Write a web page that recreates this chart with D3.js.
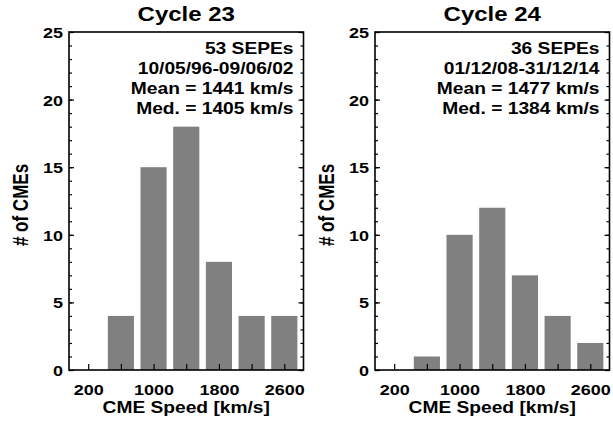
<!DOCTYPE html>
<html lang="en">
<head>
<meta charset="UTF-8">
<title>CME speed histograms</title>
<script src="https://d3js.org/d3.v7.min.js"></script>
<style>
    body { margin: 0; background: #fff; }
    svg text { font-family: "Liberation Sans", Arial, Helvetica, sans-serif; font-weight: bold; fill: #000; }
    .domain { display: none; }
    .tick line { stroke: #000; stroke-width: 1.2px; }
</style>
</head>
<body>
<script>
    // bins of CME speed [km/s] and SEP event counts
    const binCenters = [200, 600, 1000, 1400, 1800, 2200, 2600];
    const counts23 = [0, 4, 15, 18, 8, 4, 4];
    const counts24 = [0, 1, 10, 12, 7, 4, 2];
    const xTickValues = [200, 600, 1000, 1400, 1800, 2200, 2600];
    const xTickLabels = ["200", "", "1000", "", "1800", "", "2600"];
    const yMajorTicks = [0, 5, 10, 15, 20, 25];
    const titles = ["Cycle 23", "Cycle 24"];
    const notes23 = ["53 SEPEs", "10/05/96-09/06/02", "Mean = 1441 km/s", "Med. = 1405 km/s"];
    const notes24 = ["36 SEPEs", "01/12/08-31/12/14", "Mean = 1477 km/s", "Med. = 1384 km/s"];

    const width = 613, height = 423;
    const plotTop = 32, plotBottom = 370, plotW = 234.5;
    const binWidth = 320;

    const svg = d3.select("body").append("svg")
        .attr("width", width)
        .attr("height", height);

    const panels = [
        { left: 69, title: titles[0], counts: counts23, notes: notes23 },
        { left: 375, title: titles[1], counts: counts24, notes: notes24 }
    ];

    const y = d3.scaleLinear().domain([0, 25]).range([plotBottom, plotTop]);
    const yMinor = d3.range(0, 26);

    panels.forEach(p => {
        const x = d3.scaleLinear().domain([-35, 2835]).range([0, plotW]);
        const g = svg.append("g").attr("transform", `translate(${p.left},0)`);

        // bars
        g.selectAll("rect.bar")
            .data(binCenters.map((c, i) => ({ c: c, n: p.counts[i] })))
            .enter()
            .append("rect")
            .attr("class", "bar")
            .attr("x", d => x(d.c - binWidth / 2))
            .attr("width", d => x(d.c + binWidth / 2) - x(d.c - binWidth / 2))
            .attr("y", d => y(d.n))
            .attr("height", d => y(0) - y(d.n))
            .attr("fill", "#808080");

        // left axis: inward ticks
        g.append("g")
            .call(d3.axisLeft(y).tickValues(yMinor).tickSize(-3).tickFormat(""));
        g.append("g")
            .attr("class", "ylab")
            .call(d3.axisLeft(y).tickValues(yMajorTicks).tickSize(-5).tickPadding(6).tickFormat(d3.format("d")))
            .selectAll("text").style("font-size", "15px").attr("dy", "0.36em");

        // right axis mirrored
        g.append("g").attr("transform", `translate(${plotW},0)`)
            .call(d3.axisRight(y).tickValues(yMinor).tickSize(-3).tickFormat(""));
        g.append("g").attr("transform", `translate(${plotW},0)`)
            .call(d3.axisRight(y).tickValues(yMajorTicks).tickSize(-5).tickFormat(""));

        // bottom axis
        g.append("g")
            .attr("transform", `translate(0,${plotBottom})`)
            .call(d3.axisBottom(x).tickValues(xTickValues).tickSize(-6).tickPadding(14)
                .tickFormat((d, i) => xTickLabels[i]))
            .selectAll("text").style("font-size", "15px");

        // frame
        g.append("rect")
            .attr("x", 0).attr("y", plotTop)
            .attr("width", plotW).attr("height", plotBottom - plotTop)
            .attr("fill", "none").attr("stroke", "#000").attr("stroke-width", 1.6);

        // titles
        g.append("text").attr("class", "stretch")
            .attr("x", plotW / 2).attr("y", 21)
            .attr("text-anchor", "middle")
            .style("font-size", "20px")
            .text(p.title);

        g.append("text").attr("class", "stretch")
            .attr("x", plotW / 2).attr("y", 413)
            .attr("text-anchor", "middle")
            .style("font-size", "16px")
            .text("CME Speed [km/s]");

        g.append("text")
            .attr("transform", `translate(-41,205) rotate(-90) scale(1,1.25)`)
            .attr("text-anchor", "middle")
            .style("font-size", "17px")
            .text("# of CMEs");

        // annotation block
        g.selectAll("text.note")
            .data(p.notes)
            .enter()
            .append("text")
            .attr("class", "note stretch")
            .attr("x", plotW - 10)
            .attr("y", (d, i) => 54 + i * 20)
            .attr("text-anchor", "end")
            .style("font-size", "16px")
            .text(d => d);
    });

    // the original lettering is wider than Helvetica: stretch it about its anchor
    svg.selectAll("text.stretch, .tick text").each(function () {
        if (!this.textContent) return;
        const x0 = +this.getAttribute("x") || 0;
        this.setAttribute("transform", `translate(${x0},0) scale(1.2,1) translate(${-x0},0)`);
    });
</script>
</body>
</html>
